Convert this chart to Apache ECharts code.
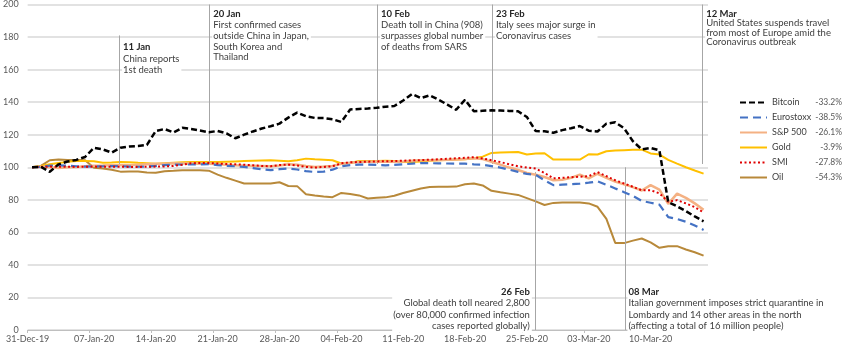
<!DOCTYPE html>
<html><head><meta charset="utf-8">
<script src="https://cdn.jsdelivr.net/npm/echarts@6/dist/echarts.min.js"></script>
<style>html,body{margin:0;padding:0;background:#fff}#c{width:848px;height:347px}</style>
</head><body><div id="c"></div>
<script>
const tickLabels = ['31-Dec-19','07-Jan-20','14-Jan-20','21-Jan-20','28-Jan-20','04-Feb-20','11-Feb-20','18-Feb-20','25-Feb-20','03-Mar-20','10-Mar-20'];
const seriesNames = ['Bitcoin','Eurostoxx','S&P 500','Gold','SMI','Oil'];
const changes = ['-33.2%','-38.5%','-26.1%','-3.9%','-27.8%','-54.3%'];

const bitcoin = [100,100.3,97.2,101.8,103.5,104.5,106.3,112,111,109,
112,112.7,113,113.7,122.3,123.5,121.4,124.2,123.5,122.6,
121.5,122.3,120.8,117.8,120,122,123.8,125.2,126.8,130.5,
133.6,131.3,130.3,130.2,129.5,127.8,135.5,135.8,136.1,136.5,
137.2,137.6,141,145,142.5,144.2,141.5,138.5,135.3,141.5,
134.4,134.7,135,134.8,134.6,134.4,130.9,122.2,122.1,121.2,
122.8,124,125.3,122.5,122,126.8,127.6,124,116,111,
111.9,110.4,78.5,76,73,69.8,66.8];
const eurostoxx = [100,100.2,101,101.2,101,100.6,100.4,100.5,100.6,100.7,
100.7,100.4,100.3,100.5,100.8,101.3,101.6,101.7,101.7,101.8,
101.9,101.3,100.9,100.6,100.2,99.5,98.8,98.2,98.8,99.2,
98.6,97.6,97.1,97.3,98.5,100.6,101.3,101.6,101.6,101.4,
101.2,101.4,101.8,102.2,102.6,102.5,102.4,102.3,102.2,102.2,
101.8,101.6,100.7,99.8,98.5,97.2,95.9,95.4,92,89,
89.3,89.6,89.9,90.5,91.3,89.2,87,84.7,82.4,79.3,
78.2,77,69.4,68.2,66.5,64.2,61.5];
const sp500 = [100,100.3,100,99.6,100,100.2,100.6,100.9,101,101.2,
101.3,101.2,101.5,101.8,102.1,102.2,102.4,102.3,102.3,102.2,
102.2,102,101.5,101.2,101,100.9,100.8,100.6,101.1,101.8,
101.5,100.8,100.2,100.4,100.8,102.2,102.8,103.2,103.4,103.6,
103.4,103.4,103.5,104,104.3,104.3,104.5,104.6,104.8,105.1,
105.5,105,103.4,101.6,99.8,98.3,96.5,95.4,94,92,
92.3,93.5,95.5,93.2,96,93.5,91.2,89.5,87.8,85.7,
89,86.2,77.5,83.8,81.2,77.8,73.9];
const gold = [100,100.8,101.8,102.6,103.3,103.9,103.8,103.7,102.7,102.9,
103.3,103,102.7,102.5,102.2,102.5,102.8,103.1,103.3,103.3,
103.2,103.2,103.4,103.6,103.8,104,104.2,104.3,104,103.7,
104.3,105.3,104.9,104.6,104.3,102.3,102.6,103.9,103.9,103.9,
104,103.8,103.3,103.2,103.6,104,104.3,104.5,104.7,104.9,
105.5,106.5,108.8,109,109.2,109.4,107.8,108.4,108.6,104.7,
104.7,104.7,104.7,108,107.8,109.8,110.3,110.5,110.7,110.8,
108.5,107.8,104.5,102.2,100,98,96.1];
const smi = [100,100.2,100.4,100.3,100.3,100.2,100.3,100.4,100.3,100.3,
100.3,100.2,100.2,100.3,100.4,100.5,100.8,101.5,102.5,102.6,
102.6,102.3,102,101.8,101.5,101.2,100.8,100.6,101.4,101.6,
101.1,100.2,99.8,100.2,100.6,102.4,103,103.2,103.4,103.6,
103.7,103.8,104,104.2,104.4,104.6,104.9,105.2,105.5,105.8,
106.2,105.4,104.3,103.2,101.8,100.6,99.8,99.2,96.5,93.2,
93.5,93.9,94.2,94.5,97,94.5,92,90,88,85.9,
85.9,84,78.8,79.8,77.8,75.5,72.2];
const oil = [100,100.8,104.3,104.7,104.5,104.4,104.3,99.7,99.3,98.5,
97.3,97.4,97.4,96.8,96.6,97.6,97.8,98.2,98.2,98.2,
97.9,95.5,93.5,91.8,90,90,90,90,90.8,88.5,
88.4,83.4,82.6,82,81.6,84.2,83.6,82.7,80.8,81.2,
81.5,82.5,84.2,85.6,87,87.8,88,88,88.1,89.5,
90,88.8,85.5,84.6,83.8,83,81,79,76.8,78.1,
78.3,78.3,78.3,77.8,75.7,68.3,53.5,53.4,54.9,56.2,
53.8,50.5,51.5,51.5,49.5,47.8,45.7];

const notes = [
  {day:10.4, from:181, to:102, textAt:178, align:'left', title:'11 Jan', lines:['China reports','1st death'], lh:11.5},
  {day:20.6, from:200, to:102, textAt:198, align:'left', title:'20 Jan', lines:['First confirmed cases','outside China in Japan,','South Korea and','Thailand'], lh:10.8},
  {day:39.6, from:200, to:102, textAt:198, align:'left', title:'10 Feb', lines:['Death toll in China (908)','surpasses global number','of deaths from SARS'], lh:11},
  {day:52.6, from:200, to:102, textAt:198, align:'left', title:'23 Feb', lines:['Italy sees major surge in','Coronavirus cases'], lh:11},
  {day:76.4, from:200, to:102, textAt:198, align:'left', title:'12 Mar', lines:['United States suspends travel','from most of Europe amid the','Coronavirus outbreak'], lh:9.6},
  {day:57.4, from:97, to:0, textAt:27.6, align:'right', title:'26 Feb', lines:['Global death toll neared 2,800','(over 80,000 confirmed infection','cases reported globally)'], lh:11.4},
  {day:67.6, from:100, to:0, textAt:27.6, align:'left', title:'08 Mar', lines:['Italian government imposes strict quarantine in','Lombardy and 14 other areas in the north','(affecting a total of 16 million people)'], lh:11.4}
];

const FONT = 'Lato';
const colors = ['#000000','#4472C4','#F4B183','#FFC000','#E00000','#B8893A'];
const styles = [
  {width:2.5, type:[6,3]},
  {width:2.2, type:[8,5]},
  {width:2.5, type:'solid'},
  {width:2, type:'solid'},
  {width:2, type:[2,2.5]},
  {width:2, type:'solid'}
];
const zs = [9,7,5,4,8,3];
const values = [bitcoin, eurostoxx, sp500, gold, smi, oil];

const chart = echarts.init(document.getElementById('c'), null, {renderer:'canvas'});
const series = seriesNames.map((name, k) => ({
  name, type:'line', symbol:'none', showSymbol:false, z:zs[k],
  data: values[k].map((v,i)=>[i+0.5, v]),
  lineStyle:{color:colors[k], width:styles[k].width, type:styles[k].type, cap:'butt'},
  itemStyle:{color:colors[k]},
  emphasis:{disabled:true}
}));
series[5].markLine = {
  silent:true, symbol:['none','none'], animation:false,
  label:{show:false},
  lineStyle:{color:'#a6a6a6', width:1, type:'solid'},
  data: notes.map(n => [{coord:[n.day, n.from]}, {coord:[n.day, n.to]}])
};

const option = {
  animation:false,
  backgroundColor:'#fff',
  grid:{left:22, right:140, top:4, bottom:17, containLabel:false},
  xAxis:{
    type:'value', min:0, max:77, interval:7,
    axisLine:{show:true, lineStyle:{color:'#bfbfbf', width:1}},
    axisTick:{show:true, length:3, lineStyle:{color:'#bfbfbf'}},
    splitLine:{show:false},
    axisLabel:{margin:5, fontFamily:FONT, fontSize:9, color:'#595959',
      showMaxLabel:false,
      formatter: v => {
        const i = Math.round(v/7);
        if (!tickLabels[i]) return '';
        return (i === 0 ? '{f|' : '{s|') + tickLabels[i] + '}';
      },
      rich:{
        f:{fontFamily:FONT, fontSize:9, color:'#595959'},
        s:{fontFamily:FONT, fontSize:9, color:'#595959', padding:[0,0,0,9]}
      }
    }
  },
  yAxis:{
    type:'value', min:0, max:200, interval:20,
    axisLine:{show:false}, axisTick:{show:false},
    splitLine:{lineStyle:{color:'#d9d9d9', width:1.5}},
    axisLabel:{margin:9, fontFamily:FONT, fontSize:9, color:'#595959'}
  },
  legend:{
    data:seriesNames, orient:'vertical', left:734, top:93,
    itemWidth:27, itemHeight:11, itemGap:6,
    selectedMode:false,
    itemStyle:{opacity:0},
    formatter: name => '{n|'+name+'}{v|'+changes[seriesNames.indexOf(name)]+'}',
    textStyle:{fontFamily:FONT, rich:{
      n:{width:43, fontSize:9, color:'#404040', fontFamily:FONT},
      v:{width:27, align:'right', fontSize:8.5, color:'#595959', fontFamily:FONT}
    }}
  },
  series
};
chart.setOption(option);

const graphics = notes.map(n => {
  const p = chart.convertToPixel({gridIndex:0}, [n.day, n.textAt]);
  const text = '{t|'+n.title+'}\n' + n.lines.map(l=>'{b|'+l+'}').join('\n');
  return {
    type:'text', z:50, silent:true,
    style:{
      text, x: p[0] + (n.align==='right' ? -3 : 2.5), y: p[1],
      align:n.align, verticalAlign:'top',
      fontFamily:FONT, fontSize:9.5, fill:'#404040',
      backgroundColor:'#fff', padding:[1,2,1,1],
      rich:{
        t:{fontFamily:FONT, fontWeight:'bold', fontSize:9.5, fill:'#262626', lineHeight:n.lh},
        b:{fontFamily:FONT, fontSize:9.5, fill:'#404040', lineHeight:n.lh}
      }
    }
  };
});
chart.setOption({graphic:graphics});
</script>
</body></html>
